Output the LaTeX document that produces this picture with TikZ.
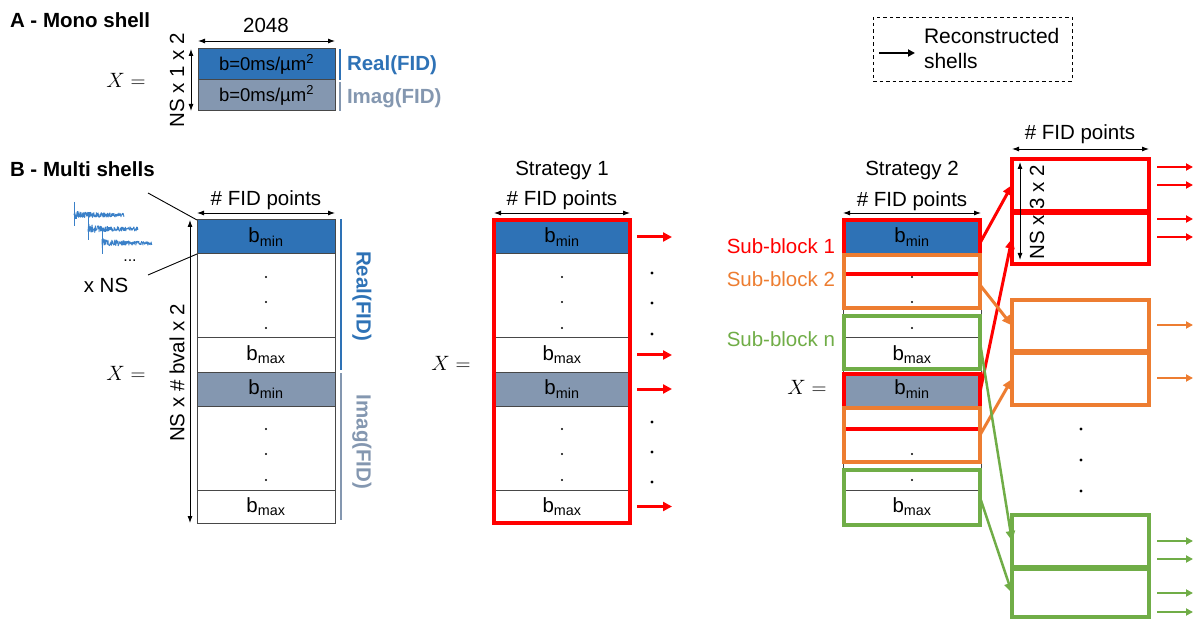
\documentclass[tikz,border=0pt]{standalone}
\usepackage{fontspec}
\setmainfont{Liberation Sans}
\usetikzlibrary{arrows.meta}
\definecolor{cblue}{RGB}{46,114,182}
\definecolor{cgray}{RGB}{132,151,176}
\definecolor{cred}{RGB}{255,0,0}
\definecolor{corange}{RGB}{237,125,49}
\definecolor{cgreen}{RGB}{112,173,71}
\definecolor{cwave}{RGB}{58,128,200}
\begin{document}
\begin{tikzpicture}[x=1pt,y=-1pt,
  every node/.style={font=\fontsize{20.5}{24}\selectfont, inner sep=0pt, outer sep=0pt},
  ttl/.style={font=\fontsize{20.5}{24}\selectfont\bfseries, anchor=base west},
  cell/.style={draw=black!72, line width=1pt, minimum height=#1},
  dimarr/.style={line width=0.9pt, {Latex[length=7pt,width=5pt]}-{Latex[length=7pt,width=5pt]}},
  sbox/.style={draw=#1, line width=3.5pt, minimum width=136},
  rbox/.style={draw=#1, line width=3.5pt, minimum width=137},
  conn/.style={draw=#1, line width=3pt, -{Triangle[length=10pt,width=9pt]}},
  outarr/.style={draw=#1, line width=2pt, -{Triangle[length=7pt,width=7pt]}},
  s1arr/.style={draw=cred, line width=3pt, -{Triangle[length=9pt,width=9pt]}},
  wave/.style={draw=cwave, line width=0.8pt},
  bigdot/.style={fill=black}
]
\useasboundingbox (0,0) rectangle (1197,620);

% ---------------- Panel A ----------------
\node[ttl] (tA) at (10,27.5) {A - Mono shell};
\node[anchor=base] (n2048) at (266,33) {2048};
\node[font=\fontsize{21.5}{25}\selectfont] (XA) at (126,80) {$X =$};
\node[cell=31, minimum width=137, fill=cblue, font=\fontsize{18.5}{22}\selectfont] (a1) at (266.5,64.5) {b=0ms/µm\textsuperscript{2}};
\node[cell=31, minimum width=137, fill=cgray, font=\fontsize{18.5}{22}\selectfont] (a2) at (266.5,95.5) {b=0ms/µm\textsuperscript{2}};
\draw[dimarr] ([yshift=8pt]a1.north west) -- ([yshift=8pt]a1.north east);
\draw[dimarr] ([xshift=-7pt]a1.north west) -- ([xshift=-7pt]a2.south west);
\node[rotate=90] (nsA) at (177,80) {NS x 1 x 2};
\draw[cblue, line width=1.5pt] (340,49) -- (340,80);
\draw[cgray, line width=1.5pt] (340,82) -- (340,111);
\node[anchor=west, font=\fontsize{20.5}{24}\selectfont\bfseries, text=cblue] (reA) at (347,65) {Real(FID)};
\node[anchor=west, font=\fontsize{20.5}{24}\selectfont\bfseries, text=cgray] (imA) at (347,98.5) {Imag(FID)};

% ---------------- Legend ----------------
\node[draw, dash pattern=on 3.5pt off 3pt, line width=0.9pt, minimum width=199, minimum height=64] (leg) at (972.5,49) {};
\coordinate (la) at (879,53);
\coordinate (lb) at (915,53);
\draw[outarr=black] (la) -- (lb);
\node[anchor=base west, font=\fontsize{21}{25}\selectfont] (leg1) at (924,44) {Reconstructed};
\node[anchor=base west, font=\fontsize{21}{25}\selectfont] (leg2) at (924,69) {shells};

% ---------------- Panel B titles ----------------
\node[ttl] (tB) at (10,177) {B - Multi shells};
\node[anchor=base] (st1) at (562,176) {Strategy 1};
\node[anchor=base] (st2) at (912,176) {Strategy 2};
\node[anchor=base] (fidB) at (266,206) {\# FID points};
\node[anchor=base] (fidS) at (562,206) {\# FID points};
\node[anchor=base] (fidT) at (912,207) {\# FID points};
\node[anchor=base] (fidR) at (1080,140) {\# FID points};

% ---------------- FID traces ----------------
\pgfmathsetseed{11}
\foreach \i in {0,1,2} {
  \pgfmathsetmacro\xs{74+14*\i}
  \pgfmathsetmacro\xe{124+14*\i}
  \pgfmathsetmacro\yc{215+14*\i}
  \draw[wave] (\xs,\yc-13) -- (\xs,\yc+11);
  \draw[wave, line join=bevel] plot[domain=\xs:\xe, samples=200] (\x, {\yc + (2.2+3*exp(-(\x-\xs)/12))*rand});
}
\node[font=\fontsize{16}{18}\selectfont] (dotsw) at (130,261) {...};
\node (xns) at (106,285) {x NS};
\coordinate (wl1) at (148,193);
\coordinate (wl2) at (148,275);

% ---------------- Matrices ----------------
\foreach \m/\cx/\w in {b/266/138, s/562/136, t/912/138} {
  \node[cell=34, minimum width=\w, fill=cblue] (\m1) at (\cx,237) {b\textsubscript{min}};
  \node[cell=84, minimum width=\w] (\m2) at (\cx,296) {};
  \node[cell=34, minimum width=\w] (\m3) at (\cx,355) {b\textsubscript{max}};
  \node[cell=34, minimum width=\w, fill=cgray] (\m4) at (\cx,389) {b\textsubscript{min}};
  \node[cell=84, minimum width=\w] (\m5) at (\cx,448) {};
  \node[cell=33, minimum width=\w] (\m6) at (\cx,506.5) {b\textsubscript{max}};
  \foreach \dy in {277,302,328,429,454,480} \fill (\cx,\dy) circle[radius=1.1pt];
}
\draw[line width=0.9pt] (wl1) -- (b1.north west);
\draw[line width=0.9pt] (wl2) -- (b1.south west);

% matrix B annotations
\draw[dimarr] ([yshift=7pt]b1.north west) -- ([yshift=7pt]b1.north east);
\draw[dimarr] ([xshift=-7pt]b1.north west) -- ([xshift=-7pt]b6.south west);
\node[rotate=90] (nsB) at (177,373) {NS x \# bval x 2};
\node[font=\fontsize{21.5}{25}\selectfont] (XB) at (126,373) {$X =$};
\draw[cblue, line width=1.5pt] (341,219) -- (341,370);
\draw[cgray, line width=1.5pt] (341,373) -- (341,520);
\node[rotate=-90, font=\fontsize{20.5}{24}\selectfont\bfseries, text=cblue] (reB) at (362,296) {Real(FID)};
\node[rotate=-90, font=\fontsize{20.5}{24}\selectfont\bfseries, text=cgray] (imB) at (362,442) {Imag(FID)};

% Strategy 1
\draw[dimarr] ([yshift=7pt]s1.north west) -- ([yshift=7pt]s1.north east);
\node[font=\fontsize{21.5}{25}\selectfont] (XS) at (451,363) {$X =$};
\node[draw=cred, line width=4pt, minimum width=136, minimum height=302] (s1box) at (562,371.5) {};
\draw[s1arr] ([xshift=7pt]s1.east) -- ++(35,0);
\draw[s1arr] ([xshift=7pt]s3.east) -- ++(35,0);
\draw[s1arr] ([xshift=7pt]s4.east) -- ++(35,0);
\draw[s1arr] ([xshift=7pt]s6.east) -- ++(35,0);
\foreach \dy in {273,303,334,422,452,482} \fill[bigdot] (652,\dy) circle[radius=1.7pt];

% Strategy 2
\draw[dimarr] ([yshift=7pt]t1.north west) -- ([yshift=7pt]t1.north east);
\node[font=\fontsize{21.5}{25}\selectfont] (XT) at (807,387) {$X =$};
\node[sbox=cred, minimum height=54] (sbr1) at (912,247) {};
\node[sbox=cred, minimum height=55] (sbr2) at (912,401.5) {};
\node[sbox=corange, minimum height=53] (sbo1) at (912,281.5) {};
\node[sbox=corange, minimum height=54] (sbo2) at (912,435) {};
\node[sbox=cgreen, minimum height=53] (sbg1) at (912,342.5) {};
\node[sbox=cgreen, minimum height=55] (sbg2) at (912,497.5) {};
\node[anchor=base east, text=cred] (lb1) at (835,254) {Sub-block 1};
\node[anchor=base east, text=corange] (lb2) at (835,287) {Sub-block 2};
\node[anchor=base east, text=cgreen] (lbn) at (835,347) {Sub-block n};

% Right reconstructed blocks
\node[rbox=cred, minimum height=52] (rr1) at (1080.5,185) {};
\node[rbox=cred, minimum height=51] (rr2) at (1080.5,238.5) {};
\node[rbox=corange, minimum height=51] (ro1) at (1080.5,325.5) {};
\node[rbox=corange, minimum height=52] (ro2) at (1080.5,379) {};
\node[rbox=cgreen, minimum height=52] (rg1) at (1080.5,541) {};
\node[rbox=cgreen, minimum height=48] (rg2) at (1080.5,593) {};
\draw[dimarr] ([yshift=10pt]rr1.north west) -- ([yshift=10pt]rr1.north east);
\draw[dimarr] ([shift={(8pt,-3pt)}]rr1.north west) -- ([shift={(8pt,4pt)}]rr2.south west);
\node[rotate=90] (nsR) at (1037,212) {NS x 3 x 2};
\foreach \dy in {429,460,491} \fill[bigdot] (1081,\dy) circle[radius=1.7pt];

% connectors from sub-blocks
\draw[conn=cred] ([yshift=4pt]sbr1.east) -- (rr1.west);
\draw[conn=cred] ([yshift=9.5pt]sbr2.east) -- (rr2.west);
\draw[conn=corange] ([yshift=-3.5pt]sbo1.east) -- (ro1.west);
\draw[conn=corange] (sbo2.east) -- (ro2.west);
\draw[conn=cgreen, line width=2.5pt] (sbg1.east) -- (rg1.west);
\draw[conn=cgreen, line width=2.5pt] (sbg2.east) -- (rg2.west);

% outgoing arrows
\foreach \yy in {167,185,219,237} \draw[outarr=cred] (1157,\yy) -- (1193,\yy);
\foreach \yy in {325,378} \draw[outarr=corange] (1157,\yy) -- (1193,\yy);
\foreach \yy in {541,559,593,612} \draw[outarr=cgreen] (1157,\yy) -- (1193,\yy);
\end{tikzpicture}
\end{document}
